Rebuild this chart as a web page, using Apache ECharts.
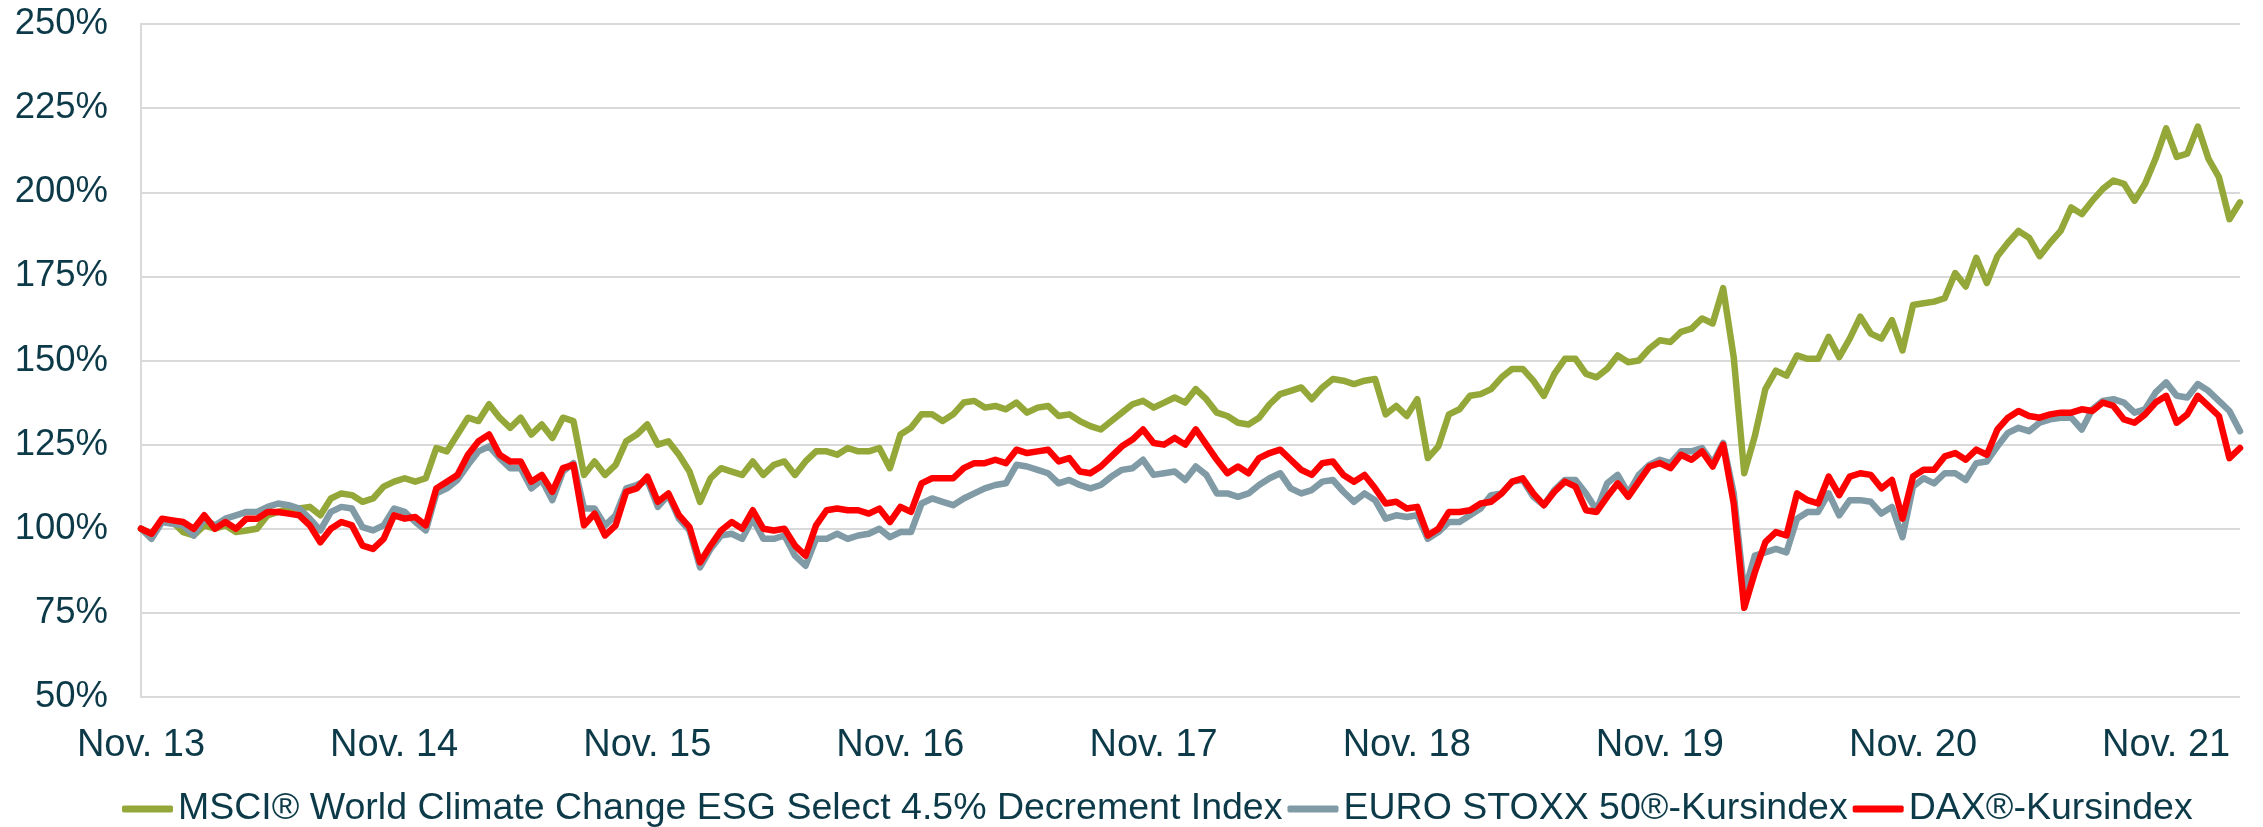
<!DOCTYPE html>
<html>
<head>
<meta charset="utf-8">
<script src="https://cdn.jsdelivr.net/npm/echarts@6/dist/echarts.min.js"></script>
<style>
  html, body { margin: 0; padding: 0; background: #fff; }
  #chart { width: 2263px; height: 827px; }
</style>
</head>
<body>
<div id="chart"></div>
<script>
// half-monthly readings, starting Nov. 2013 (index 0), indexed to 100%
var stepYears = 1 / 24
var yearLabels = ['Nov. 13', 'Nov. 14', 'Nov. 15', 'Nov. 16', 'Nov. 17', 'Nov. 18', 'Nov. 19', 'Nov. 20', 'Nov. 21']
var seriesNames = ['MSCI® World Climate Change ESG Select 4.5% Decrement Index', 'EURO STOXX 50®-Kursindex', 'DAX®-Kursindex']

var msci = [
  100, 98.5, 102.5, 102, 99, 98, 101, 100, 101, 99,
  99.5, 100, 104, 105, 106, 106, 106.5, 104, 109, 110.5,
  110, 108, 109, 112.5, 114, 115, 114, 115, 124, 123,
  128, 133, 132, 137, 133, 130, 133, 128, 131, 127,
  133, 132, 116, 120, 116, 119, 126, 128, 131, 125,
  126, 122, 117, 108, 115, 118, 117, 116, 120, 116,
  119, 120, 116, 120, 123, 123, 122, 124, 123, 123,
  124, 118, 128, 130, 134, 134, 132, 134, 137.5, 138,
  136, 136.5, 135.5, 137.5, 134.5, 136, 136.5, 133.5, 134, 132,
  130.5, 129.5, 132, 134.5, 137, 138, 136, 137.5, 139, 137.5,
  141.5, 138.5, 134.5, 133.5, 131.5, 131, 133, 137, 140, 141,
  142, 138.5, 142, 144.5, 144, 143, 144, 144.5, 134, 136.5,
  133.5, 138.5, 121, 124.5, 134, 135.5, 139.5, 140, 141.5, 145,
  147.5, 147.5, 144, 139.5, 146, 150.5, 150.5, 146, 145, 147.5,
  151.5, 149.5, 150, 153.5, 156, 155.5, 158.5, 159.5, 162.5, 161,
  171.5, 151, 116.5, 127.5, 141.5, 147, 145.5, 151.5, 150.5, 150.5,
  157, 151, 156.5, 163, 158, 156.5, 162, 153, 166.5, 167,
  167.5, 168.5, 176, 172, 180.5, 173, 181, 185, 188.5, 186.5,
  181, 185, 188.5, 195.5, 193.5, 197.5, 201, 203.5, 202.5, 197.5,
  202.5, 210, 219, 210.5, 211.5, 219.5, 210, 204.5, 192, 197
]

var euroStoxx = [
  100, 97, 102, 101.5, 101, 98, 103, 101, 103, 104,
  105, 105, 106.5, 107.5, 107, 106, 103, 99.5, 105, 106.5,
  106, 100.5, 99.5, 101, 106, 105, 102, 99.5, 110.5, 112,
  114.5, 119, 123, 124.5, 121, 118, 118, 112, 114.5, 108.5,
  117, 119.5, 106, 106, 101, 104, 112, 113, 114.5, 106.5,
  110, 103, 99.5, 88.5, 94, 98, 98.5, 97, 103, 97,
  97, 98, 92, 89, 97, 97, 98.5, 97, 98, 98.5,
  100, 97.5, 99, 99, 107.5, 109, 108, 107, 109, 110.5,
  112, 113, 113.5, 119, 118.5, 117.5, 116.5, 113.5, 114.5, 113,
  112, 113, 115.5, 117.5, 118, 120.5, 116, 116.5, 117, 114.5,
  118.5, 116, 110.5, 110.5, 109.5, 110.5, 113, 115, 116.5, 112,
  110.5, 111.5, 114, 114.5, 111, 108, 110.5, 108.5, 103, 104,
  103.5, 104, 97, 99, 102, 102, 104, 106, 110, 110.5,
  114, 114.5, 109.5, 107, 111.5, 114.5, 114.5, 110.5, 105.5, 113.5,
  116, 110.5, 116, 119, 120.5, 119.5, 123, 123, 124, 119.5,
  125.5, 110.5, 81, 92, 93, 94, 93, 103, 105, 105,
  110.5, 104, 108.5, 108.5, 108, 104.5, 106.5, 97.5, 112.5, 115,
  113.5, 116.5, 116.5, 114.5, 119.5, 120, 124.5, 128.5, 130, 129,
  131.5, 132.5, 133, 133, 129.5, 135.5, 138, 138.5, 137.5, 134.5,
  135.5, 140.5, 143.5, 139.5, 139, 143, 141, 138, 135, 129
]

var dax = [
  100, 98.5, 103, 102.5, 102, 100, 104, 100, 102, 100,
  103, 103, 105, 105, 104.5, 104, 101, 96, 100, 102,
  101, 95, 94, 97, 104, 103, 103.5, 101, 112, 114,
  116, 122, 126, 128, 122, 120, 120, 114, 116, 111,
  118, 119, 101, 104.5, 98, 101, 111, 112, 115.5, 108,
  110.5, 104, 100.5, 90, 95, 99.5, 102, 100, 105.5, 100,
  99.5, 100, 95, 92, 101, 105.5, 106, 105.5, 105.5, 104.5,
  106, 102, 106.5, 105, 113.5, 115, 115, 115, 118, 119.5,
  119.5, 120.5, 119.5, 123.5, 122.5, 123, 123.5, 120, 121, 117,
  116.5, 118.5, 121.5, 124.5, 126.5, 129.5, 125.5, 125, 127, 125,
  129.5, 125, 120.5, 116.5, 118.5, 116.5, 121, 122.5, 123.5, 120.5,
  117.5, 116, 119.5, 120, 116, 114, 116, 112, 107.5, 108,
  106, 106.5, 98, 100, 105, 105, 105.5, 107.5, 108, 110.5,
  114, 115, 110.5, 107, 111, 114, 112.5, 105.5, 105, 109.5,
  113.5, 109.5, 114, 118.5, 119.5, 118, 122, 120.5, 123, 118.5,
  125, 107.5, 76.5, 87, 96, 99, 98, 110.5, 108.5, 107.5,
  115.5, 110, 115.5, 116.5, 116, 112, 114.5, 103, 115.5, 117.5,
  117.5, 121.5, 122.5, 120.5, 123.5, 122, 129.5, 133, 135, 133.5,
  133, 134, 134.5, 134.5, 135.5, 135, 137.5, 136.5, 132.5, 131.5,
  134, 137.5, 139.5, 131.5, 134, 139.5, 136.5, 133.5, 121, 124
]

function toPoints (values) {
  return values.map(function (v, i) { return [i * stepYears, v] })
}

var textColor = '#0d3a48'
var gridColor = '#d9d9d9'
var fontFamily = '"Liberation Sans", Arial, sans-serif'

var chart = echarts.init(document.getElementById('chart'))
var option = {
  animation: false,
  backgroundColor: '#fff',
  grid: {
    left: 141,
    right: 23,
    top: 24,
    bottom: 130,
    containLabel: false
  },
  legend: {
    left: 117,
    top: 785,
    icon: 'roundRect',
    itemWidth: 51,
    itemHeight: 7,
    itemGap: 5,
    textStyle: {
      color: textColor,
      fontSize: 37.5,
      fontFamily: fontFamily
    },
    data: seriesNames
  },
  xAxis: {
    type: 'value',
    min: 0,
    max: (msci.length - 1) * stepYears,
    interval: 1,
    axisLine: { show: false },
    axisTick: { show: false },
    splitLine: { show: false },
    axisLabel: {
      showMaxLabel: false,
      margin: 30,
      color: textColor,
      fontSize: 38,
      fontFamily: fontFamily,
      formatter: function (v) {
        return Number.isInteger(v) ? (yearLabels[v] || '') : ''
      }
    }
  },
  yAxis: {
    type: 'value',
    min: 50,
    max: 250,
    interval: 25,
    axisLine: { show: true, lineStyle: { color: gridColor, width: 2 } },
    axisTick: { show: false },
    splitLine: { lineStyle: { color: gridColor, width: 2 } },
    axisLabel: {
      margin: 33,
      color: textColor,
      fontSize: 36.5,
      fontFamily: fontFamily,
      formatter: '{value}%'
    }
  },
  series: [{
    name: seriesNames[0],
    type: 'line',
    symbol: 'none',
    color: '#94a83a',
    lineStyle: { width: 6.5, cap: 'round', join: 'round' },
    data: toPoints(msci)
  }, {
    name: seriesNames[1],
    type: 'line',
    symbol: 'none',
    color: '#809ba5',
    lineStyle: { width: 6.5, cap: 'round', join: 'round' },
    data: toPoints(euroStoxx)
  }, {
    name: seriesNames[2],
    type: 'line',
    symbol: 'none',
    color: '#ff0000',
    lineStyle: { width: 6.5, cap: 'round', join: 'round' },
    data: toPoints(dax)
  }]
}
chart.setOption(option)
window.addEventListener('resize', function () {
  chart.resize()
})
</script>
</body>
</html>
